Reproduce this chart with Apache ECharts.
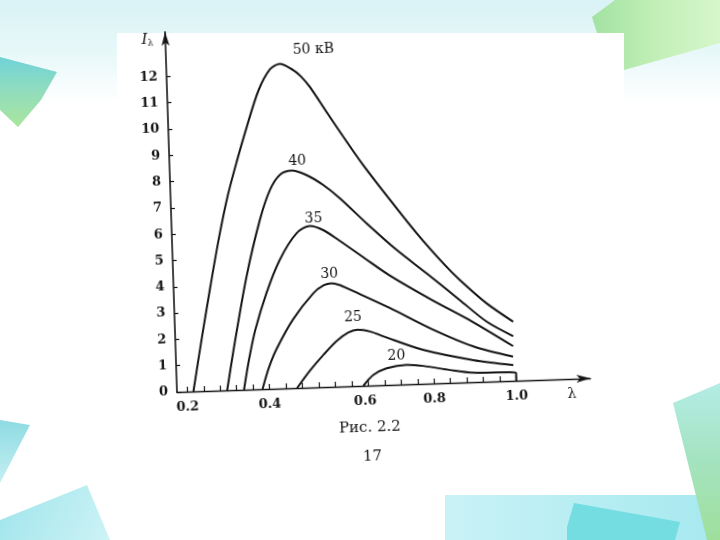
<!DOCTYPE html>
<html><head><meta charset="utf-8">
<script src="https://cdn.jsdelivr.net/npm/echarts@6/dist/echarts.min.js"></script>
<style>
html,body{margin:0;padding:0;background:#fff;overflow:hidden;}
#bg,#chart{position:absolute;left:0;top:0;width:720px;height:540px;}
#chart{transform:rotate(-1.9deg);transform-origin:177px 392px;}
</style></head><body>
<div id="bg"></div><div id="chart"></div>
<script>
// ---- data (λ, I_λ) ----
const curveNames = ['50 кВ', '40', '35', '30', '25', '20'];
const kv50 = [[0.215,0],[0.240,2.05],[0.265,4.0],[0.290,5.85],[0.315,7.45],[0.340,8.75],[0.365,9.95],[0.397,11.35],[0.427,12.15],[0.451,12.34],[0.483,12.09],[0.500,11.86],[0.522,11.43],[0.561,10.45],[0.600,9.48],[0.645,8.40],[0.708,7.03],[0.770,5.73],[0.835,4.50],[0.871,3.90],[0.934,2.98],[0.997,2.25]];
const kv40 = [[0.297,0],[0.319,1.78],[0.353,4.29],[0.390,6.43],[0.417,7.56],[0.442,8.12],[0.471,8.27],[0.507,8.08],[0.547,7.68],[0.586,7.16],[0.649,6.17],[0.720,5.12],[0.791,4.19],[0.869,3.14],[0.933,2.28],[0.996,1.70]];
const kv35 = [[0.338,0],[0.352,1.1],[0.370,2.25],[0.400,3.64],[0.435,4.89],[0.478,5.88],[0.511,6.14],[0.543,5.97],[0.579,5.58],[0.642,4.84],[0.701,4.16],[0.800,3.19],[0.899,2.29],[0.995,1.32]];
const kv30 = [[0.383,0],[0.400,0.8],[0.420,1.5],[0.463,2.62],[0.514,3.58],[0.540,3.87],[0.559,3.94],[0.579,3.86],[0.601,3.69],[0.699,2.92],[0.798,2.08],[0.897,1.37],[0.994,0.92]];
const kv25 = [[0.467,0],[0.500,0.65],[0.535,1.25],[0.567,1.74],[0.595,2.04],[0.618,2.14],[0.650,2.05],[0.680,1.86],[0.776,1.29],[0.897,0.84],[0.994,0.60]];
const kv20 = [[0.628,0],[0.653,0.40],[0.686,0.64],[0.735,0.74],[0.775,0.68],[0.840,0.49],[0.896,0.36],[1.0,0.30],[1.0,0]];
const curves = [kv50, kv40, kv35, kv30, kv25, kv20];
const xTickLabels = [0.2, 0.4, 0.6, 0.8, 1.0];
const xTickMarks = [0.2,0.24,0.28,0.32,0.36,0.4,0.44,0.48,0.52,0.56,0.6,0.64,0.68,0.72,0.76,0.8,0.84,0.88,0.92,0.96,1.0];
const yTickLabels = [0,1,2,3,4,5,6,7,8,9,10,11,12];
const xName = 'λ';
const captionText = 'Рис. 2.2';
const pageText = '17';

// ---- styles ----
const SERIF = 'DejaVu Serif';
const INK = '#151515';
const labelOffsets = [[34,-6.5],[6,-2.5],[4,-0.5],[-2,-2.5],[-4,-5.5],[-10,-2]];

// ---- slide background ----
const bg = echarts.init(document.getElementById('bg'), null, {renderer:'canvas'});
function lg(x0,y0,x1,y1,stops){return new echarts.graphic.LinearGradient(x0,y0,x1,y1,stops.map((c)=>({offset:c[0],color:c[1]})));}
bg.setOption({
  animation:false,
  graphic:[
    {type:'rect',shape:{x:0,y:0,width:720,height:540},style:{fill:lg(0,0,0,1,[[0,'#d9f2f5'],[0.1,'#e8f8f9'],[0.19,'#ffffff'],[1,'#ffffff']])}},
    {type:'polygon',shape:{points:[[0,57],[57,72],[41,100],[18,127],[0,110]]},style:{fill:lg(0,0,0,1,[[0,'#6fd2d8'],[0.45,'#8fdcc0'],[1,'#a9e59c']])}},
    {type:'polygon',shape:{points:[[615,0],[720,0],[720,43],[624,70],[597,33],[592,17]]},style:{fill:lg(0,0,1,0,[[0,'#a3e2a2'],[0.5,'#c2efb6'],[1,'#d6f6cb']])}},
    {type:'polygon',shape:{points:[[0,420],[30,425],[0,483]]},style:{fill:lg(0,0,0,1,[[0,'#8edbe3'],[1,'#c4eff2']])}},
    {type:'polygon',shape:{points:[[0,520],[87,485],[110,540],[0,540]]},style:{fill:lg(0,0,1,1,[[0,'#9fe4ec'],[1,'#cdf3f5']])}},
    {type:'rect',shape:{x:445,y:495,width:275,height:45},style:{fill:lg(0,0,1,0,[[0,'#c9f2f6'],[1,'#a6e9ef']])}},
    {type:'polygon',shape:{points:[[574,503],[680,522],[675,540],[567,540],[567,527]]},style:{fill:'#73dde2'}},
    {type:'polygon',shape:{points:[[673,403],[720,383],[720,540],[707,540]]},style:{fill:lg(0,0,0,1,[[0,'#b3ece6'],[0.5,'#a4e3bf'],[1,'#9fdf9c']])}},
    {type:'rect',shape:{x:117,y:33,width:507,height:462},style:{fill:'#ffffff'}}
  ]
});

// ---- the chart itself ----
const chart = echarts.init(document.getElementById('chart'), null, {renderer:'canvas'});
const txt = {fontFamily:SERIF, fontSize:13, fontWeight:'bold', color:INK};
const series = curves.map((pts, k) => {
  let peak = 0;
  pts.forEach((p, i) => { if (p[1] > pts[peak][1]) peak = i; });
  return {
    type:'line', name:curveNames[k], smooth:0.3,
    symbol:'circle', symbolSize:0, showSymbol:true, showAllSymbol:true,
    silent:true, emphasis:{disabled:true},
    lineStyle:{color:INK, width:2},
    itemStyle:{color:INK},
    label:{show:false},
    data: pts.map((p, i) => i === peak ? {
      value:p,
      label:{show:true, position:'top', distance:0, offset:labelOffsets[k],
             formatter:curveNames[k], fontFamily:SERIF, fontSize:14, color:INK}
    } : {value:p})
  };
});

chart.setOption({
  animation:false,
  backgroundColor:'transparent',
  grid:{left:177, top:31.7, width:413.6, height:360.3, containLabel:false},
  xAxis:{
    type:'value', min:0.175, max:1.18,
    name:xName, nameLocation:'end', nameGap:-19,
    nameTextStyle:{fontFamily:SERIF, fontSize:14, color:INK, align:'center', verticalAlign:'top', padding:[8,0,0,0]},
    axisLine:{onZero:false, symbol:['none','arrow'], symbolSize:[6,14], lineStyle:{color:INK, width:1.4}},
    axisTick:{inside:true, length:5, customValues:xTickMarks, lineStyle:{color:INK, width:1.2}},
    axisLabel:{customValues:xTickLabels, margin:9, ...txt,
      formatter:(v)=> Math.abs(v-0.6)<1e-9 ? '{s|0.6}' : v.toFixed(1),
      rich:{s:{padding:[0,0,0,26], fontFamily:SERIF, fontSize:13, fontWeight:'bold', color:INK}}},
    splitLine:{show:false}
  },
  yAxis:{
    type:'value', min:0, max:13.7,
    name:'{i|I}{s|λ}', nameLocation:'end', nameGap:-7,
    nameTextStyle:{align:'right', verticalAlign:'middle', padding:[0,12,0,0],
      rich:{i:{fontFamily:SERIF, fontStyle:'italic', fontSize:15, color:INK},
            s:{fontFamily:SERIF, fontSize:9, color:INK, padding:[7,0,0,0]}}},
    axisLine:{onZero:false, symbol:['none','arrow'], symbolSize:[6,14], lineStyle:{color:INK, width:1.6}},
    axisTick:{inside:true, length:4, customValues:yTickLabels, lineStyle:{color:INK, width:1.2}},
    axisLabel:{customValues:yTickLabels, margin:9, ...txt},
    splitLine:{show:false}
  },
  graphic:[
    {type:'text', x:368.7, y:434.4, style:{text:captionText, fontFamily:SERIF, fontSize:15, fill:INK, align:'center', verticalAlign:'middle'}},
    {type:'text', x:370.2, y:463.2, style:{text:pageText, fontFamily:SERIF, fontSize:15, fill:INK, align:'center', verticalAlign:'middle'}}
  ],
  series: series
});
</script>
</body></html>
